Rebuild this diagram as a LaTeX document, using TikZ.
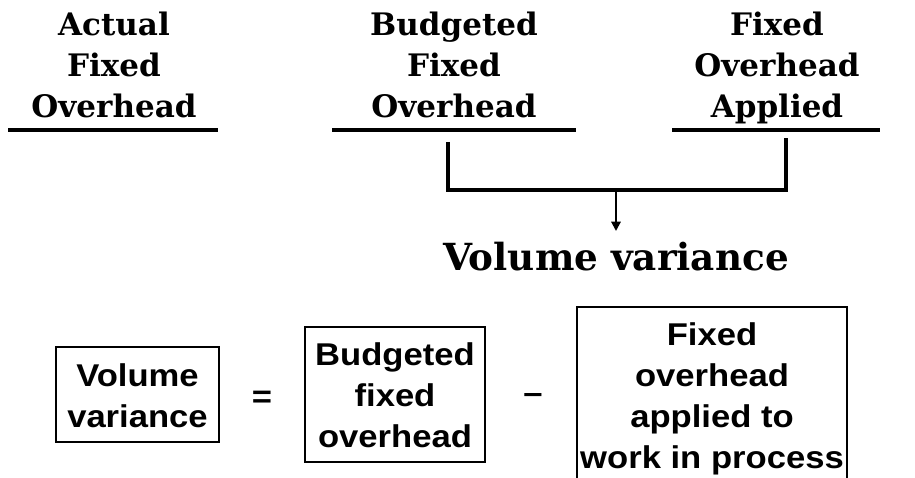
\documentclass[tikz,border=0pt]{standalone}
\usepackage{fontspec}
\usetikzlibrary{arrows.meta}
\newfontfamily\hdfont{DejaVu Serif}
\newfontfamily\bxfont{Liberation Sans}[FakeStretch=1.1]
\newcommand\stk[1]{\begin{tabular}[t]{@{}c@{}}#1\end{tabular}}
\newcommand\fr{\rule{0pt}{27.5pt}}
\begin{document}
\begin{tikzpicture}[x=0.75pt,y=-0.75pt,
 head/.style={font=\hdfont\bfseries\fontsize{23.25pt}{30.4pt}\selectfont, inner sep=0pt, anchor=base},
 big/.style={font=\hdfont\bfseries\fontsize{28pt}{32pt}\selectfont, inner sep=0pt, anchor=base},
 bar/.style={line width=2.4pt},
 box/.style={draw, line width=1pt, font=\bxfont\bfseries\fontsize{23.6pt}{30.75pt}\selectfont, inner sep=0pt},
 op/.style={font=\bxfont\bfseries\fontsize{23.6pt}{26pt}\selectfont, inner sep=0pt}]
\useasboundingbox (0,0) rectangle (915,478);
\clip (0,0) rectangle (915,478);
% headings
\node[head] (act) at (114,36) {\stk{Actual\\Fixed\\Overhead}};
\node[head] (bud) at (454,36) {\stk{Budgeted\\Fixed\\Overhead}};
\node[head] (app) at (777,36) {\stk{Fixed\\Overhead\\Applied}};
% underlines
\coordinate (u1a) at (8,130);   \coordinate (u1b) at (218,130);
\coordinate (u2a) at (332,130); \coordinate (u2b) at (576,130);
\coordinate (u3a) at (672,130); \coordinate (u3b) at (880,130);
\draw[bar] (u1a) -- (u1b);
\draw[bar] (u2a) -- (u2b);
\draw[bar] (u3a) -- (u3b);
% bracket
\coordinate (bl) at (448,142);
\coordinate (br) at (786,138);
\coordinate (bm) at (616,190);
\coordinate (tip) at (616,231);
\draw[bar] (bl) |- (786,190) -- (br);
\draw[line width=1.5pt, -{Triangle[length=7pt,width=7pt]}] (bm) -- (tip);
\node[big] (vv) at (616,270) {Volume variance};
% equation
\node[box, minimum width=122.25pt, minimum height=71.25pt] (b1) at (137.5,394.5) {\stk{\fr Volume\\variance}};
\node[op] (eq) at (262,399) {=};
\node[box, minimum width=135pt, minimum height=101.25pt] (b2) at (395,394.5) {\stk{\fr Budgeted\\fixed\\overhead}};
\node[op] (mi) at (533,398) {–};
\node[box, minimum width=202.5pt, minimum height=137pt] (b3) at (712,398.3) {\stk{Fixed\\overhead\\applied to\\work in process}};
\end{tikzpicture}
\end{document}
